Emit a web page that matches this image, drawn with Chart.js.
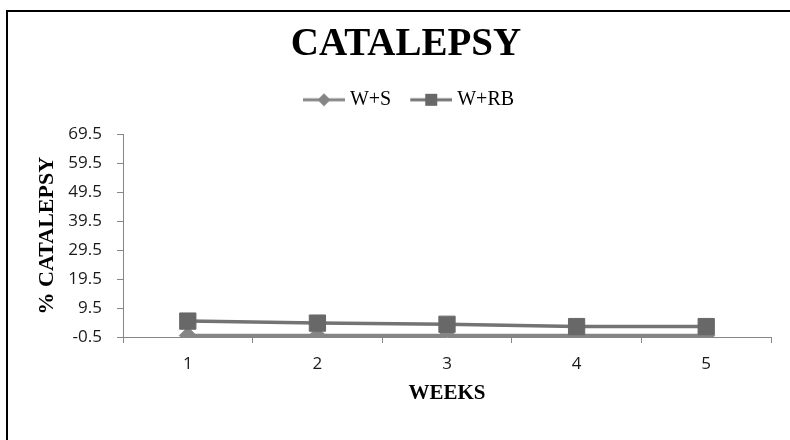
<!DOCTYPE html>
<html>
<head>
<meta charset="utf-8">
<script src="https://cdn.jsdelivr.net/npm/chart.js@4/dist/chart.umd.min.js"></script>
<style>
  body { margin: 0; background: #fff; }
  #frame { position: relative; width: 790px; height: 440px; overflow: hidden; }
  #edge {
    position: absolute; left: 6px; top: 10px; right: 0; bottom: 0;
    border-top: 2px solid #000; border-left: 2px solid #000;
    pointer-events: none;
  }
</style>
</head>
<body>
<div id="frame">
  <canvas id="chart" aria-label="Catalepsy chart"></canvas>
  <div id="edge"></div>
</div>
<script>
const weeks = ["1", "2", "3", "4", "5"];
const wsValues = [0, 0, 0, 0, 0];
const wrbValues = [5.0, 4.3, 3.9, 3.1, 3.1];
const yTicks = [-0.5, 9.5, 19.5, 29.5, 39.5, 49.5, 59.5, 69.5];

const WS_COLOR = "#858585";
const WRB_LINE = "#737373";
const WRB_FILL = "#686868";
const AXIS = "#868686";

// legend swatch: short line with the marker in the middle
// (blank strip on the left pulls the swatch closer to its text)
function legendMarker(shape, lineColor, fillColor) {
  const c = document.createElement("canvas");
  c.width = 52;
  c.height = 14;
  const g = c.getContext("2d");
  g.strokeStyle = lineColor;
  g.lineWidth = 3;
  g.beginPath();
  g.moveTo(10, 7);
  g.lineTo(52, 7);
  g.stroke();
  g.fillStyle = fillColor;
  g.beginPath();
  if (shape === "diamond") {
    g.moveTo(31, 0.5);
    g.lineTo(37.5, 7);
    g.lineTo(31, 13.5);
    g.lineTo(24.5, 7);
  } else {
    g.rect(25, 1, 12, 12);
  }
  g.fill();
  return c;
}

const markers = [
  legendMarker("diamond", WS_COLOR, WS_COLOR),
  legendMarker("square", WRB_LINE, WRB_FILL),
];

// extra room between the legend and the plot
const legendGap = {
  id: "legendGap",
  beforeInit(chart) {
    const fitLegend = chart.legend.fit;
    chart.legend.fit = function fit() {
      fitLegend.bind(chart.legend)();
      this.height += 14.5;
    };
  },
};

const serif = "'Liberation Serif', 'Times New Roman', serif";
const sans = "'Open Sans', 'Liberation Sans', sans-serif";

new Chart(document.getElementById("chart"), {
  type: "line",
  data: {
    labels: weeks,
    datasets: [
      {
        label: "W+S",
        data: wsValues,
        borderColor: WS_COLOR,
        backgroundColor: WS_COLOR,
        borderWidth: 3.5,
        pointStyle: "rectRot",
        pointRadius: 8.5,
        pointBorderWidth: 1,
        tension: 0,
        order: 1,
      },
      {
        label: "W+RB",
        data: wrbValues,
        borderColor: WRB_LINE,
        backgroundColor: WRB_FILL,
        pointBorderColor: WRB_FILL,
        borderWidth: 3.5,
        pointStyle: "rect",
        pointRadius: 11.5,
        pointBorderWidth: 1,
        tension: 0,
        order: 0,
      },
    ],
  },
  options: {
    responsive: true,
    maintainAspectRatio: false,
    animation: false,
    layout: { padding: { left: 41, right: 19, top: 0, bottom: 0 } },
    plugins: {
      tooltip: { enabled: false },
      title: {
        display: true,
        text: "CATALEPSY",
        color: "#000",
        font: { family: serif, size: 39, weight: "bold" },
        padding: { top: 22, bottom: 7 },
      },
      legend: {
        display: true,
        position: "top",
        labels: {
          color: "#000",
          font: { family: serif, size: 20 },
          usePointStyle: true,
          pointStyleWidth: 42,
          padding: 14,
          sort: (a, b) => a.datasetIndex - b.datasetIndex,
          generateLabels(chart) {
            const items = Chart.defaults.plugins.legend.labels.generateLabels(chart);
            items.forEach((item) => {
              item.pointStyle = markers[item.datasetIndex];
            });
            return items;
          },
        },
      },
    },
    scales: {
      x: {
        offset: true,
        grid: {
          offset: true,
          drawOnChartArea: false,
          drawTicks: true,
          tickLength: 6,
          color: AXIS,
        },
        border: { color: AXIS, width: 1 },
        ticks: {
          color: "#1a1a1a",
          font: { family: sans, size: 17 },
          padding: 10.5,
        },
        title: {
          display: true,
          text: "WEEKS",
          color: "#000",
          font: { family: serif, size: 21, weight: "bold" },
          padding: { top: 0, bottom: 33.5 },
        },
        afterFit(scale) {
          scale.height = 103;
        },
      },
      y: {
        min: yTicks[0],
        max: yTicks[yTicks.length - 1],
        afterBuildTicks(scale) {
          scale.ticks = yTicks.map((v) => ({ value: v }));
        },
        grid: {
          drawOnChartArea: false,
          drawTicks: true,
          tickLength: 6,
          color: AXIS,
        },
        border: { color: AXIS, width: 1 },
        ticks: {
          color: "#1a1a1a",
          font: { family: sans, size: 17 },
          padding: 15,
          callback: (v) => Number(v).toFixed(1),
        },
        title: {
          display: true,
          text: "% CATALEPSY",
          color: "#000",
          font: { family: serif, size: 22, weight: "bold" },
          padding: { top: -7.2, bottom: 0 },
        },
        afterFit(scale) {
          scale.width = 82;
        },
      },
    },
  },
  plugins: [legendGap],
});
</script>
</body>
</html>
